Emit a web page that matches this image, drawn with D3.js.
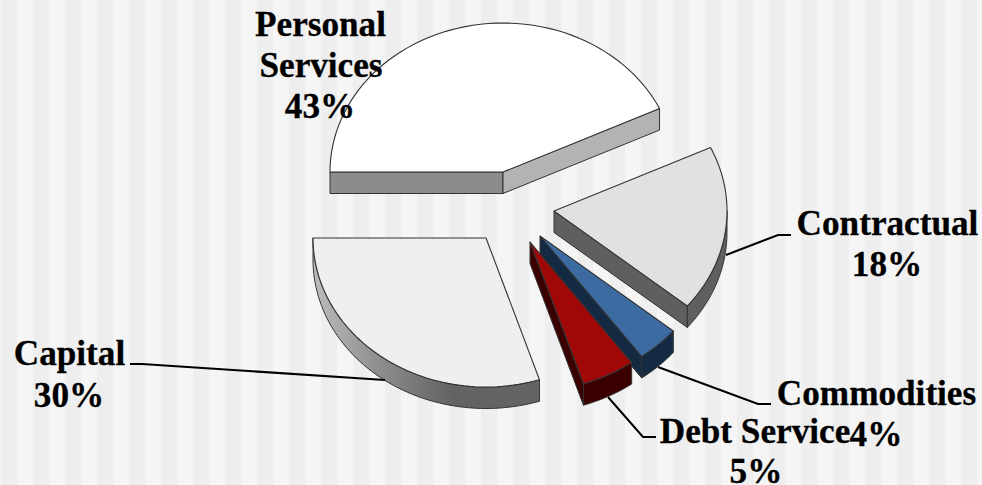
<!DOCTYPE html>
<html>
<head>
<meta charset="utf-8">
<script src="https://cdn.jsdelivr.net/npm/d3@7/dist/d3.min.js"></script>
<style>
  html, body { margin: 0; padding: 0; background: #f5f5f5; overflow: hidden; }
  svg { display: block; }
  text { font-family: "Liberation Serif", serif; font-weight: bold; font-size: 35.2px; fill: #000; stroke: #000; stroke-width: 0.3px; text-anchor: middle; }
</style>
</head>
<body>
<svg id="chart" width="982" height="485"></svg>
<script>
// Budget shares by expenditure category
const categories = ["Personal Services", "Contractual", "Commodities", "Debt Service", "Capital"];
const shares = [43, 18, 4, 5, 30];

const W = 982, H = 485;
const RX = 173, RY = 149, DEPTH = 21.5;
const TAU = Math.PI * 2;

// Where each exploded wedge has its tip, and how it is shaded
const tips = { "Personal Services": [503, 172], "Contractual": [554, 211], "Commodities": [540, 236], "Debt Service": [530, 242], "Capital": [486, 238] };
const topFill = { "Personal Services": "#ffffff", "Contractual": "#e1e1e1", "Commodities": "#3b6ba1", "Debt Service": "#a00808", "Capital": "#efefef" };
const wallFill = { "Personal Services": "#b3b3b3", "Contractual": "#5f5f5f", "Commodities": "#142a42", "Debt Service": "#3a0000", "Capital": "url(#capitalWall)" };
const drawOrder = ["Personal Services", "Contractual", "Capital", "Commodities", "Debt Service"];

const svg = d3.select("#chart");

// Striped backdrop
svg.selectAll("rect.stripe")
  .data(d3.range(1, W, 32))
  .join("rect")
  .attr("class", "stripe")
  .attr("x", d => d).attr("y", 0)
  .attr("width", 16).attr("height", H)
  .attr("fill", "#eeeeee");

const defs = svg.append("defs");
const grad = defs.append("linearGradient").attr("id", "capitalWall")
  .attr("gradientUnits", "userSpaceOnUse")
  .attr("x1", 313).attr("y1", 0).attr("x2", 540).attr("y2", 0);
[[0, "#bdbdbd"], [0.3, "#8c8c8c"], [0.62, "#626262"], [1, "#646464"]].forEach(([o, c]) =>
  grad.append("stop").attr("offset", o).attr("stop-color", c));

const sx = d3.scaleLinear().domain([-1, 1]).range([-RX, RX]);
const sy = d3.scaleLinear().domain([-1, 1]).range([-RY, RY]);
const rim = (tip, a, drop = 0) => [tip[0] + sx(Math.sin(a)), tip[1] - sy(Math.cos(a)) + drop];
const line = d3.line();
const arcAngles = (a0, a1) => d3.range(0, 61).map(i => a0 + (a1 - a0) * i / 60);

const wedges = d3.pie().value(d => d.share).sort(null)
  .startAngle(-Math.PI / 2).endAngle(TAU - Math.PI / 2)(categories.map((name, i) => ({ name, share: shares[i] })));

const byName = new Map(wedges.map(w => [w.data.name, w]));
const stroke = "#333333";

drawOrder.forEach(name => {
  const w = byName.get(name);
  const tip = tips[name];
  const g = svg.append("g").attr("class", "slice");
  const { startAngle: a0, endAngle: a1 } = w;

  // Curved outer wall: only the part facing the viewer
  const frontStart = Math.max(a0, Math.PI / 2);
  if (a1 > frontStart) {
    const angles = arcAngles(frontStart, a1);
    const outer = angles.map(a => rim(tip, a)).concat(angles.slice().reverse().map(a => rim(tip, a, DEPTH)));
    g.append("path").attr("d", line(outer) + "Z")
      .attr("fill", wallFill[name]).attr("stroke", stroke).attr("stroke-width", 1);
  }

  // Flat cut faces along the radii
  const face = (a, fill) => {
    const p = rim(tip, a), q = rim(tip, a, DEPTH);
    g.append("path").attr("d", line([tip, p, q, [tip[0], tip[1] + DEPTH]]) + "Z")
      .attr("fill", fill).attr("stroke", stroke).attr("stroke-width", 1);
  };
  if (name === "Personal Services") {
    face(a0, "#8c8c8c");
    face(a1, wallFill[name]);
  } else if (name !== "Capital") {
    face(a1, wallFill[name]);
  }

  // Top surface
  const top = [tip].concat(arcAngles(a0, a1).map(a => rim(tip, a)));
  g.append("path").attr("d", line(top) + "Z")
    .attr("fill", topFill[name]).attr("stroke", stroke).attr("stroke-width", 1.1).attr("stroke-linejoin", "round");
});

// Leader lines from the wedges to their labels
const leaders = [
  [[726, 255], [778, 235], [791, 235]],
  [[130, 364], [142, 364], [385, 380]],
  [[658, 367], [758, 404], [771, 404]],
  [[608, 397], [643, 437], [656, 437]]
];
svg.selectAll("path.leader").data(leaders).join("path")
  .attr("class", "leader")
  .attr("d", d => line(d))
  .attr("fill", "none").attr("stroke", "#000").attr("stroke-width", 2);

// Category labels with their percentages
const pct = name => byName.get(name).data.share + "%";
const labels = [
  ["Personal", 320.5, 36], ["Services", 321, 77], [pct("Personal Services"), 320, 118],
  ["Contractual", 887.5, 235], [pct("Contractual"), 887, 276],
  ["Capital", 69.5, 365], [pct("Capital"), 69, 407],
  ["Debt Service", 755, 443], [pct("Debt Service"), 756, 483],
  ["Commodities", 876.5, 405], [pct("Commodities"), 876, 446]
];
svg.selectAll("text").data(labels).join("text")
  .attr("x", d => d[1]).attr("y", d => d[2]).text(d => d[0]);
</script>
</body>
</html>
